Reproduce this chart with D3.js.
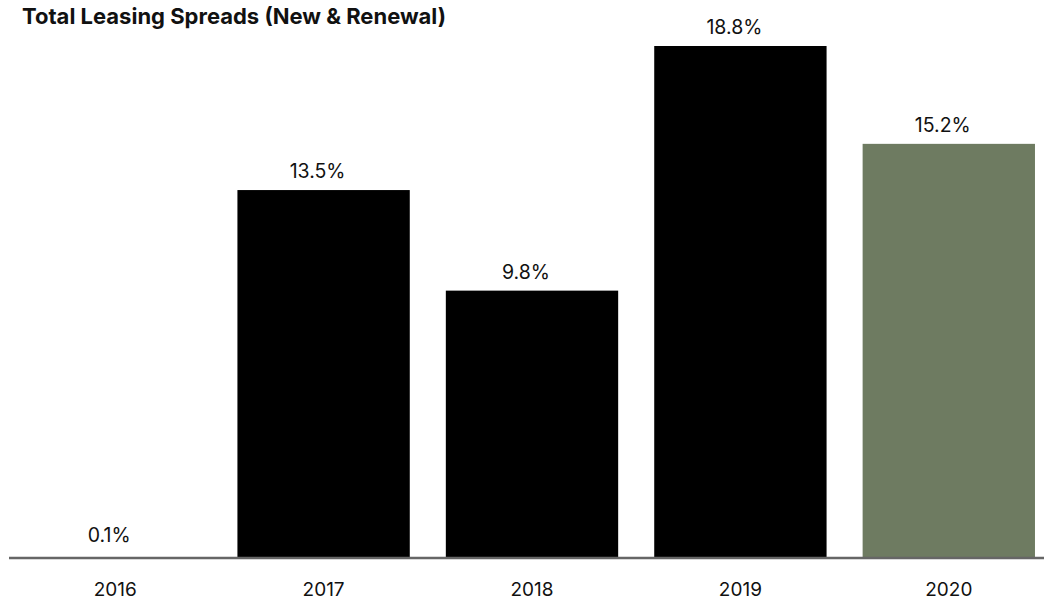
<!DOCTYPE html>
<html>
<head>
<meta charset="utf-8">
<script src="https://cdn.jsdelivr.net/npm/d3@7"></script>
<style>
  html, body { margin: 0; padding: 0; background: #fff; }
  svg { display: block; }
  text { font-family: "Inter", "Liberation Sans", Arial, sans-serif; }
</style>
</head>
<body>
<div id="chart"></div>
<script>
const title = "Total Leasing Spreads (New & Renewal)";
const categories = ["2016", "2017", "2018", "2019", "2020"];
const values = [0.1, 13.5, 9.8, 18.8, 15.2];
const valueLabels = ["0.1%", "13.5%", "9.8%", "18.8%", "15.2%"];
const barColors = ["#000000", "#000000", "#000000", "#000000", "#6e7b61"];

const W = 1044, H = 602;
const baseline = 557;

const svg = d3.select("#chart").append("svg")
  .attr("width", W).attr("height", H);

const x = d3.scaleBand()
  .domain(categories)
  .range([11, 1053])
  .paddingInner(0.173)
  .paddingOuter(0.0865);

const y = d3.scaleLinear()
  .domain([0, 18.8])
  .range([baseline, 46]);

svg.append("text")
  .attr("x", 22).attr("y", 24)
  .attr("font-size", 22)
  .attr("font-weight", 700)
  .attr("fill", "#111")
  .text(title);

const data = categories.map((c, i) => ({ c, v: values[i], label: valueLabels[i], color: barColors[i] }));

svg.selectAll("rect.bar").data(data.filter(d => d.v >= 1)).join("rect")
  .attr("class", "bar")
  .attr("x", d => x(d.c))
  .attr("y", d => y(d.v))
  .attr("width", x.bandwidth())
  .attr("height", d => baseline - y(d.v))
  .attr("fill", d => d.color);

svg.selectAll("text.val").data(data).join("text")
  .attr("class", "val")
  .attr("x", d => x(d.c) + x.bandwidth() / 2 - 6)
  .attr("y", d => Math.min(y(d.v), baseline) - 12)
  .attr("text-anchor", "middle")
  .attr("font-size", 19.5)
  .attr("fill", "#111")
  .text(d => d.label);

const axis = d3.axisBottom(x).tickSize(0).tickPadding(0);
const gx = svg.append("g").attr("transform", `translate(0,${baseline + 1})`).call(axis);
gx.select(".domain").remove();
gx.append("line")
  .attr("x1", 9).attr("x2", W)
  .attr("y1", 0).attr("y2", 0)
  .attr("stroke", "#666").attr("stroke-width", 2.5);
gx.selectAll(".tick text")
  .attr("y", 38)
  .attr("dy", 0)
  .attr("font-size", 19)
  .attr("fill", "#111")
  .style("font-family", '"Inter", "Liberation Sans", Arial, sans-serif');
</script>
</body>
</html>
